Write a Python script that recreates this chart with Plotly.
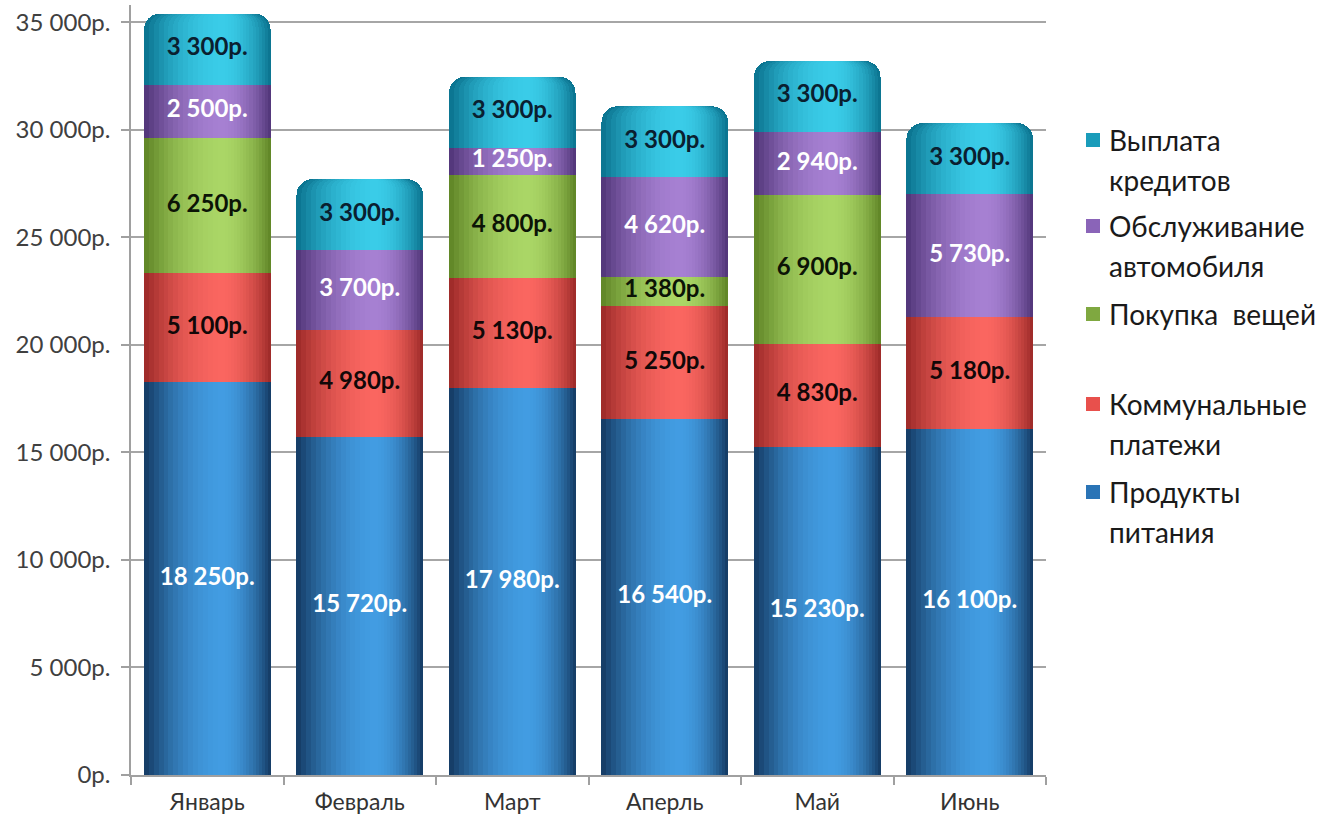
import plotly.graph_objects as go

# ---------------- data ----------------
months = ["Январь", "Февраль", "Март", "Аперль", "Май", "Июнь"]
food = [18250, 15720, 17980, 16540, 15230, 16100]        # Продукты питания
utilities = [5100, 4980, 5130, 5250, 4830, 5180]         # Коммунальные платежи
purchases = [6250, 0, 4800, 1380, 6900, 0]               # Покупка вещей
car = [2500, 3700, 1250, 4620, 2940, 5730]               # Обслуживание автомобиля
credit = [3300, 3300, 3300, 3300, 3300, 3300]            # Выплата кредитов

series_names = ["Продукты питания", "Коммунальные платежи", "Покупка вещей",
                "Обслуживание автомобиля", "Выплата кредитов"]
legend_lines = [["Продукты", "питания"], ["Коммунальные", "платежи"], ["Покупка  вещей"],
                ["Обслуживание", "автомобиля"], ["Выплата", "кредитов"]]
series_values = [food, utilities, purchases, car, credit]

# styles: (edge colour, highlight colour, label colour)
styles = [
    ((22, 62, 104), (66, 156, 226), "white"),
    ((160, 44, 42), (250, 102, 96), "#120808"),
    ((98, 136, 40), (170, 214, 102), "#0c1406"),
    ((84, 56, 124), (166, 128, 210), "white"),
    ((12, 118, 146), (58, 204, 232), "#0a2030"),
]
legend_colors = ["#2a74b6", "#e8504c", "#7fa840", "#8a64b8", "#1a9cba"]

FONT = "Lato"
BAR_W = 0.83
PEAK = 0.62
LEVELS = 16


def fmt(v):
    return f"{v:,}".replace(",", " ") + "р."


def mix(c1, c2, t):
    return "rgb(%d,%d,%d)" % tuple(round(a + (b - a) * t) for a, b in zip(c1, c2))


fig = go.Figure()

# each shading level is a full stack drawn on its own overlaying x axis
for k in range(LEVELS):
    s = 1 - k / LEVELS
    left = PEAK - PEAK * s
    right = PEAK + (1 - PEAK) * s
    w = (right - left) * BAR_W
    off = -BAR_W / 2 + left * BAR_W
    xa = "x" if k == 0 else f"x{k + 1}"
    radius = max(2, round(16 * (w / BAR_W) ** 0.6))
    for si, vals in enumerate(series_values):
        edge, hi, _ = styles[si]
        marker = dict(color=mix(hi, edge, s ** 2.0), line=dict(width=0))
        if si == 0:
            marker["cornerradius"] = radius
        fig.add_trace(go.Bar(
            x=months, y=vals, width=w, offset=off, xaxis=xa, yaxis="y",
            marker=marker, showlegend=False, hoverinfo="skip",
            name=series_names[si],
        ))

# value labels at segment centres (drawn on the top-most axis)
label_x, label_y, label_t, label_c = [], [], [], []
bases = [0] * len(months)
for si, vals in enumerate(series_values):
    for i, v in enumerate(vals):
        if v:
            label_x.append(months[i])
            label_y.append(bases[i] + v / 2)
            label_t.append(fmt(v))
            label_c.append(styles[si][2])
    bases = [b + v for b, v in zip(bases, vals)]

fig.add_trace(go.Scatter(
    x=label_x, y=label_y, text=label_t, mode="text",
    xaxis=f"x{LEVELS}", yaxis="y",
    textposition="middle center",
    textfont=dict(family=FONT, size=24, color=label_c, weight="bold"),
    showlegend=False, hoverinfo="text",
))

# ---------------- custom legend (right side) ----------------
PX_L, PX_R, PX_T, PX_B = 131, 1046, 5, 775


def px_x(px):
    return (px - PX_L) / (PX_R - PX_L)


def px_y(py):
    return (PX_B - py) / (PX_B - PX_T)


legend_rows = [140, 226, 314, 404, 492]  # top-to-bottom item rows
order = [4, 3, 2, 1, 0]
for row_y, si in zip(legend_rows, order):
    fig.add_shape(type="rect", xref="paper", yref="paper",
                  xsizemode="pixel", ysizemode="pixel",
                  xanchor=px_x(1093), yanchor=px_y(row_y),
                  x0=-7, x1=7, y0=-7, y1=7,
                  fillcolor=legend_colors[si], line=dict(width=0))
    for li, line in enumerate(legend_lines[si]):
        fig.add_annotation(xref="paper", yref="paper", x=px_x(1107), y=px_y(row_y + 40 * li),
                           text=line, showarrow=False, xanchor="left", yanchor="middle",
                           font=dict(family=FONT, size=28, color="#1a1a1a"))

axis_common = dict(type="category", range=[-0.5, 5.5], categoryorder="array",
                   categoryarray=months)
layout_axes = {}
for k in range(1, LEVELS):
    layout_axes[f"xaxis{k + 1}"] = dict(overlaying="x", visible=False, **axis_common)

fig.update_layout(
    width=1327, height=823,
    margin=dict(l=PX_L, r=1327 - PX_R, t=PX_T, b=823 - PX_B),
    barmode="stack",
    plot_bgcolor="white", paper_bgcolor="white",
    separators=", ",
    font=dict(family=FONT),
    showlegend=False,
    xaxis=dict(
        showline=True, linecolor="#a0a0a0", linewidth=1.5,
        ticks="outside", tickson="boundaries", ticklen=8, tickcolor="#a0a0a0", tickwidth=1.5,
        tickfont=dict(family=FONT, size=23, color="#333333"),
        ticklabelstandoff=6,
        showgrid=False, **axis_common,
    ),
    yaxis=dict(
        range=[0, 35800], tick0=0, dtick=5000,
        tickformat=",.0f", ticksuffix="р.",
        showline=True, linecolor="#a0a0a0", linewidth=1.5,
        ticks="outside", ticklen=8, tickcolor="#a0a0a0", tickwidth=1.5,
        showgrid=True, gridcolor="#a6a6a6", gridwidth=1.5,
        zeroline=False,
        ticklabelstandoff=6,
        tickfont=dict(family=FONT, size=24, color="#404040"),
    ),
    **layout_axes,
)

fig.write_html("out.html")
